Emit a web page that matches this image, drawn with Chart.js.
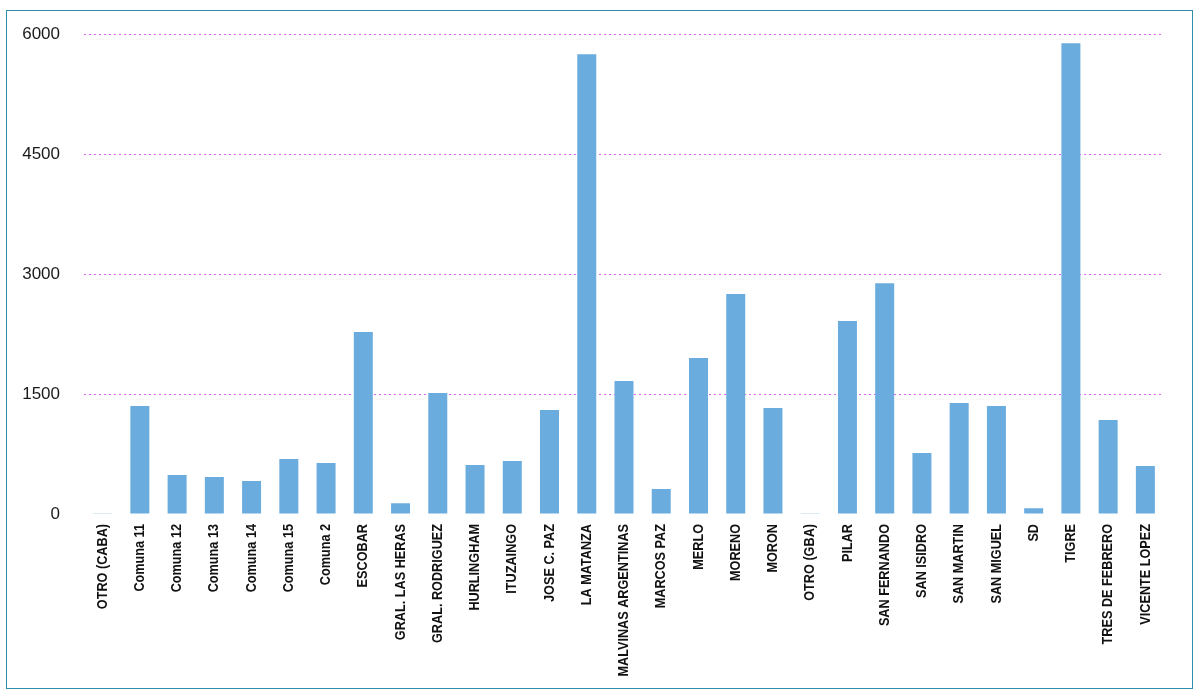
<!DOCTYPE html>
<html>
<head>
<meta charset="utf-8">
<script src="https://cdn.jsdelivr.net/npm/chart.js@4/dist/chart.umd.min.js"></script>
<style>
html,body{margin:0;padding:0;background:#fff;}
#wrap{position:absolute;left:0;top:0;width:1201px;height:698px;}
#frame{position:absolute;left:6px;top:10px;width:1185px;height:677px;border:1.5px solid #2f8ea9;pointer-events:none;}
</style>
</head>
<body>
<div id="wrap"><canvas id="c" width="1201" height="698"></canvas></div>
<div id="frame"></div>
<script>
const categories = ["OTRO (CABA)","Comuna 11","Comuna 12","Comuna 13","Comuna 14","Comuna 15","Comuna 2","ESCOBAR","GRAL. LAS HERAS","GRAL. RODRIGUEZ","HURLINGHAM","ITUZAINGO","JOSE C. PAZ","LA MATANZA","MALVINAS ARGENTINAS","MARCOS PAZ","MERLO","MORENO","MORON","OTRO (GBA)","PILAR","SAN FERNANDO","SAN ISIDRO","SAN MARTIN","SAN MIGUEL","SD","TIGRE","TRES DE FEBRERO","VICENTE LOPEZ"];
const values = [10,1350,487,462,412,687,637,2275,134,1512,612,662,1300,5750,1662,312,1950,2750,1325,10,2412,2887,762,1387,1350,71,5887,1175,600];
const yTicks = [0,1500,3000,4500,6000];

const catSet = new Set(categories);
const condense = {
  id: 'condense',
  beforeDraw(chart) {
    const ctx = chart.ctx;
    if (ctx._condensed) return;
    const orig = ctx.fillText.bind(ctx);
    ctx.fillText = function (t, x, y, mw) {
      if (catSet.has(t)) {
        const w = ctx.measureText(t).width;
        return orig(t, x, y, w * 0.845);
      }
      return (mw === undefined) ? orig(t, x, y) : orig(t, x, y, mw);
    };
    ctx._condensed = true;
  }
};

new Chart(document.getElementById('c'), {
  type: 'bar',
  data: {
    labels: categories,
    datasets: [{
      data: values,
      backgroundColor: '#6aacde',
      borderWidth: 0,
      categoryPercentage: 1.0,
      barPercentage: 0.51
    }]
  },
  plugins: [condense],
  options: {
    responsive: false,
    animation: false,
    devicePixelRatio: 1,
    layout: { padding: { left: 0, right: 37, top: 26, bottom: 0 } },
    plugins: { legend: { display: false }, tooltip: { enabled: false } },
    scales: {
      x: {
        grid: { display: false, drawTicks: false },
        border: { display: false },
        ticks: {
          autoSkip: false,
          maxRotation: 90,
          minRotation: 90,
          padding: 10,
          color: '#111',
          font: { family: '"Liberation Sans", Arial, sans-serif', weight: 'bold', size: 15 }
        },
        afterFit: (s) => { s.height = 184; }
      },
      y: {
        min: 0,
        max: 6000,
        afterBuildTicks: (s) => { s.ticks = yTicks.map(v => ({ value: v })); },
        grid: {
          drawTicks: false,
          color: (ctx) => ctx.tick && ctx.tick.value === 0 ? 'rgba(0,0,0,0)' : '#e25cff',
          lineWidth: 1
        },
        border: { display: false, dash: [2, 3] },
        ticks: {
          padding: 24,
          color: '#1a1a1a',
          callback: (v) => String(v),
          font: { family: '"Liberation Sans", Arial, Helvetica, sans-serif', size: 17 }
        },
        afterFit: (s) => { s.width = 84; }
      }
    }
  }
});
</script>
</body>
</html>
